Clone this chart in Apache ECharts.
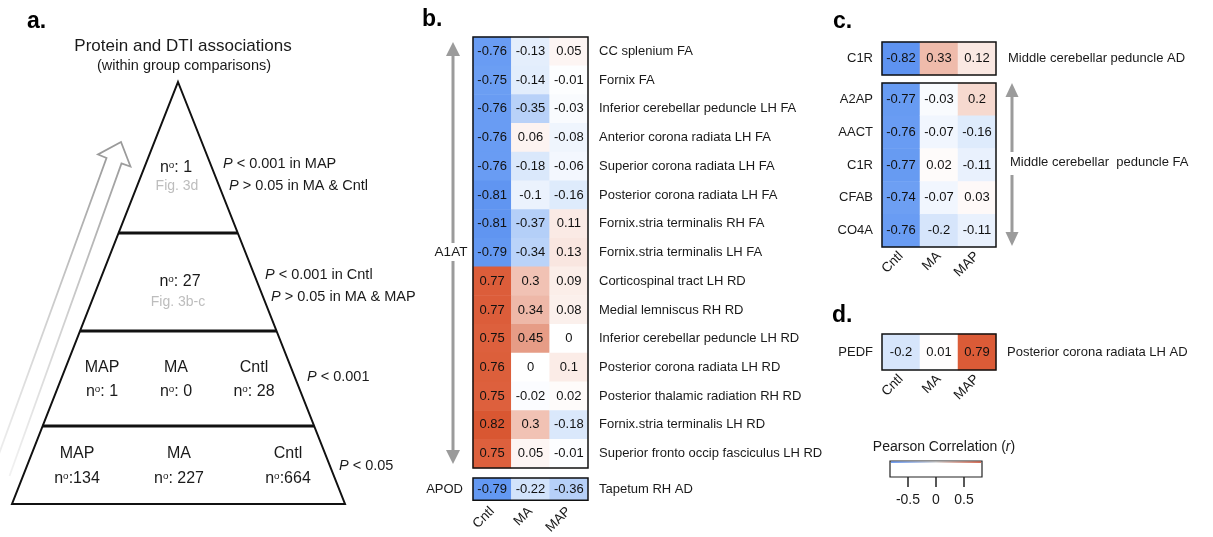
<!DOCTYPE html>
<html><head><meta charset="utf-8">
<script src="https://cdn.jsdelivr.net/npm/echarts@6/dist/echarts.min.js"></script>
<style>html,body{margin:0;padding:0;background:#fff}#c{width:1213px;height:537px}</style>
</head><body><div id="c"></div>
<script>
// ---------------- DATA ----------------
const groups = ['Cntl', 'MA', 'MAP'];

// panel b (A1AT)
const bProtein = 'A1AT';
const bRegions = ['CC splenium FA', 'Fornix FA', 'Inferior cerebellar peduncle LH FA', 'Anterior corona radiata LH FA',
  'Superior corona radiata LH FA', 'Posterior corona radiata LH FA', 'Fornix.stria terminalis RH FA',
  'Fornix.stria terminalis LH FA', 'Corticospinal tract LH RD', 'Medial lemniscus RH RD',
  'Inferior cerebellar peduncle LH RD', 'Posterior corona radiata LH RD', 'Posterior thalamic radiation RH RD',
  'Fornix.stria terminalis LH RD', 'Superior fronto occip fasciculus LH RD'];
const bCntl = [-0.76, -0.75, -0.76, -0.76, -0.76, -0.81, -0.81, -0.79, 0.77, 0.77, 0.75, 0.76, 0.75, 0.82, 0.75];
const bMA   = [-0.13, -0.14, -0.35, 0.06, -0.18, -0.1, -0.37, -0.34, 0.3, 0.34, 0.45, 0, -0.02, 0.3, 0.05];
const bMAP  = [0.05, -0.01, -0.03, -0.08, -0.06, -0.16, 0.11, 0.13, 0.09, 0.08, 0, 0.1, 0.02, -0.18, -0.01];
const apodProtein = ['APOD'];
const apodRegion = ['Tapetum RH AD'];
const apodVals = [-0.79, -0.22, -0.36];

// panel c
const cAdProtein = ['C1R'];
const cAdRegion = ['Middle cerebellar peduncle AD'];
const cAdVals = [-0.82, 0.33, 0.12];
const cFaProteins = ['A2AP', 'AACT', 'C1R', 'CFAB', 'CO4A'];
const cFaRegion = 'Middle cerebellar  peduncle FA';
const cFaCntl = [-0.77, -0.76, -0.77, -0.74, -0.76];
const cFaMA   = [-0.03, -0.07, 0.02, -0.07, -0.2];
const cFaMAP  = [0.2, -0.16, -0.11, 0.03, -0.11];

// panel d
const dProtein = ['PEDF'];
const dRegion = ['Posterior corona radiata LH AD'];
const dVals = [-0.2, 0.01, 0.79];

// legend
const legendTitle = 'Pearson Correlation';
const legendTicks = [-0.5, 0, 0.5];

// panel a (pyramid)
const pyrTitle = 'Protein and DTI associations';
const pyrSubtitle = '(within group comparisons)';
const tier1 = { count: ': 1', fig: 'Fig. 3d', p1: ' < 0.001 in MAP', p2: ' > 0.05 in MA & Cntl' };
const tier2 = { count: ': 27', fig: 'Fig. 3b-c', p1: ' < 0.001 in Cntl', p2: ' > 0.05 in MA & MAP' };
const tier3Groups = ['MAP', 'MA', 'Cntl'];
const tier3Counts = [': 1', ': 0', ': 28'];
const tier3P = ' < 0.001';
const tier4Groups = ['MAP', 'MA', 'Cntl'];
const tier4Counts = [':134', ': 227', ':664'];
const tier4P = ' < 0.05';

// ---------------- BUILD ----------------
const FF = "'Liberation Sans', Arial, Helvetica, sans-serif";
const TXT = '#1a1a1a';
const palette = ['#3C78EB', '#6B9EF3', '#9ABDF6', '#CCDFFA', '#FFFFFF', '#F4CFC3', '#E38F77', '#DD603D', '#CF3F17'];

function matrix(cols) { const out = []; cols.forEach((arr, x) => arr.forEach((v, y) => out.push([x, y, v]))); return out; }
function row(vals) { return vals.map((v, x) => [x, 0, v]); }

const gridStyle = { show: true, borderColor: '#111', borderWidth: 1.5, z: 10, backgroundColor: 'transparent' };
const grids = [
  Object.assign({ left: 473, top: 37, width: 115, height: 431 }, gridStyle),
  Object.assign({ left: 473, top: 478, width: 115, height: 33 }, gridStyle),
  Object.assign({ left: 882, top: 42, width: 114, height: 33 }, gridStyle),
  Object.assign({ left: 882, top: 83, width: 114, height: 164 }, gridStyle),
  Object.assign({ left: 882, top: 334, width: 114, height: 36 }, gridStyle),
  { left: 890, top: 461, width: 92, height: 16, show: true, borderColor: '#222', borderWidth: 1.2, backgroundColor: '#fff', z: 1 }
];

function catX(gi, showLabels, margin) {
  return {
    type: 'category', gridIndex: gi, data: groups,
    axisLine: { show: false }, axisTick: { show: false }, splitLine: { show: false },
    axisLabel: { show: !!showLabels, rotate: 45, margin: margin || 7, fontSize: 13.5, fontFamily: FF, color: TXT }
  };
}
function catY(gi, data, pos, margin) {
  return {
    type: 'category', gridIndex: gi, data: data, position: pos, inverse: true,
    axisLine: { show: false }, axisTick: { show: false }, splitLine: { show: false },
    axisLabel: { margin: margin, fontSize: 13, fontFamily: FF, color: TXT }
  };
}

const xAxes = [catX(0, false), catX(1, true, 9), catX(2, false), catX(3, true), catX(4, true),
  { type: 'value', gridIndex: 5, min: -0.82, max: 0.82,
    axisLine: { show: false }, splitLine: { show: false },
    axisTick: { show: true, customValues: legendTicks, length: 10, lineStyle: { color: '#222', width: 1.5 } },
    axisLabel: { customValues: legendTicks, margin: 16, fontSize: 14, fontFamily: FF, color: TXT } }];
const yAxes = [
  catY(0, bRegions, 'right', 11),
  catY(1, apodProtein, 'left', 10),
  catY(1, apodRegion, 'right', 11),
  catY(2, cAdProtein, 'left', 9),
  catY(2, cAdRegion, 'right', 12),
  catY(3, cFaProteins, 'left', 9),
  catY(4, dProtein, 'left', 9),
  catY(4, dRegion, 'right', 11),
  { type: 'value', gridIndex: 5, show: false, min: 0, max: 1 }
];

function heat(xi, yi, data) {
  return {
    type: 'heatmap', xAxisIndex: xi, yAxisIndex: yi, data: data,
    label: { show: true, formatter: p => String(p.value[2]), fontSize: 13, fontFamily: FF, color: '#111' },
    emphasis: { disabled: true }, itemStyle: { borderWidth: 0 }
  };
}
const series = [
  heat(0, 0, matrix([bCntl, bMA, bMAP])),
  heat(1, 1, row(apodVals)),
  heat(2, 3, row(cAdVals)),
  heat(3, 5, matrix([cFaCntl, cFaMA, cFaMAP])),
  heat(4, 6, row(dVals))
];

// ---- graphics ----
const G = [];
function text(x, y, str, o) {
  o = o || {};
  G.push({ type: 'text', x: x, y: y, silent: true, z: 20, style: Object.assign({
    text: str, fontSize: 14, fontFamily: FF, fill: TXT, align: 'left', verticalAlign: 'middle' }, o) });
}
function richP(x, y, rest, size) {
  text(x, y, '{i|P}{t|' + rest + '}', { fontSize: size, rich: {
    i: { fontStyle: 'italic', fontSize: size, fontFamily: FF, fill: TXT },
    t: { fontSize: size, fontFamily: FF, fill: TXT } } });
}
function nCount(x, y, rest, size) {
  text(x, y, '{n|n}{o|o}{t|' + rest + '}', { align: 'center', fontSize: size, rich: {
    n: { fontSize: size, fontFamily: FF, fill: TXT },
    o: { fontSize: size * 0.62, fontFamily: FF, fill: TXT, verticalAlign: 'top', padding: [0, 0, 0, 0] },
    t: { fontSize: size, fontFamily: FF, fill: TXT } } });
}

// panel letters
text(27, 22, 'a.', { fontSize: 23, fontWeight: 'bold', fill: '#000' });
text(422, 20, 'b.', { fontSize: 23, fontWeight: 'bold', fill: '#000' });
text(833, 22, 'c.', { fontSize: 23, fontWeight: 'bold', fill: '#000' });
text(832, 316, 'd.', { fontSize: 23, fontWeight: 'bold', fill: '#000' });

// panel a
text(183, 46, pyrTitle, { align: 'center', fontSize: 17 });
text(184, 66, pyrSubtitle, { align: 'center', fontSize: 14.5 });

// hollow arrow
G.push({ type: 'polyline', silent: true, z: 5, shape: { points: [[-9, 476], [106.5, 158], [98, 154.5], [121, 142], [130.5, 166.5], [121.5, 163.5], [9.5, 476]] },
  style: { fill: null, lineWidth: 1.8, lineJoin: 'miter', stroke: { type: 'linear', x: 0, y: 1, x2: 0.35, y2: 0,
    colorStops: [{ offset: 0, color: '#f3f3f3' }, { offset: 0.5, color: '#cfcfcf' }, { offset: 1, color: '#9a9a9a' }] } } });

// pyramid
const apex = [178, 82], baseY = 504, baseL = 12, baseR = 345;
function lx(y) { return apex[0] - (apex[0] - baseL) * (y - apex[1]) / (baseY - apex[1]); }
function rx(y) { return apex[0] + (baseR - apex[0]) * (y - apex[1]) / (baseY - apex[1]); }
G.push({ type: 'polygon', silent: true, z: 6, shape: { points: [apex, [baseR, baseY], [baseL, baseY]] },
  style: { fill: '#fff', stroke: '#111', lineWidth: 2, lineJoin: 'miter' } });
[233, 331, 426].forEach(y => G.push({ type: 'line', silent: true, z: 7,
  shape: { x1: lx(y), y1: y, x2: rx(y), y2: y }, style: { stroke: '#111', lineWidth: 3 } }));

nCount(176, 168, tier1.count, 16);
text(177, 186, tier1.fig, { align: 'center', fontSize: 14, fill: '#bdbdbd' });
richP(223, 164, tier1.p1, 14.5);
richP(229, 186, tier1.p2, 14.5);

nCount(180, 282, tier2.count, 16);
text(178, 302, tier2.fig, { align: 'center', fontSize: 14, fill: '#bdbdbd' });
richP(265, 275, tier2.p1, 14.5);
richP(271, 297, tier2.p2, 14.5);

const t3x = [102, 176, 254];
tier3Groups.forEach((g, i) => { text(t3x[i], 368, g, { align: 'center', fontSize: 16 }); nCount(t3x[i], 392, tier3Counts[i], 16); });
richP(307, 377, tier3P, 14.5);
const t4x = [77, 179, 288];
tier4Groups.forEach((g, i) => { text(t4x[i], 454, g, { align: 'center', fontSize: 16 }); nCount(t4x[i], 479, tier4Counts[i], 16); });
richP(339, 466, tier4P, 14.5);

// panel b arrow + label
const ARC = '#9b9b9b';
function vArrow(x, top, gapTop, gapBot, bot, hw, hl) {
  G.push({ type: 'polygon', silent: true, z: 5, shape: { points: [[x, top], [x - hw, top + hl], [x + hw, top + hl]] }, style: { fill: ARC } });
  G.push({ type: 'line', silent: true, z: 5, shape: { x1: x, y1: top + hl, x2: x, y2: gapTop }, style: { stroke: ARC, lineWidth: 3 } });
  G.push({ type: 'line', silent: true, z: 5, shape: { x1: x, y1: gapBot, x2: x, y2: bot - hl }, style: { stroke: ARC, lineWidth: 3 } });
  G.push({ type: 'polygon', silent: true, z: 5, shape: { points: [[x, bot], [x - hw, bot - hl], [x + hw, bot - hl]] }, style: { fill: ARC } });
}
vArrow(453, 42, 243, 261, 464, 7, 14);
text(451, 252, bProtein, { align: 'center', fontSize: 13.5 });

// panel c arrow + label
vArrow(1012, 83, 152, 175, 246, 6.5, 14);
text(1010, 162, cFaRegion, { fontSize: 13 });

// legend
text(944, 447, '{t|' + legendTitle + ' (}{i|r}{t|)}', { align: 'center', fontSize: 14, rich: {
  t: { fontSize: 14, fontFamily: FF, fill: TXT }, i: { fontSize: 14, fontFamily: FF, fill: TXT, fontStyle: 'italic' } } });
G.push({ type: 'rect', silent: true, z: 20, shape: { x: 891, y: 461.5, width: 90, height: 1.2 },
  style: { fill: { type: 'linear', x: 0, y: 0, x2: 1, y2: 0, colorStops: [
    { offset: 0, color: '#3C78EB' }, { offset: 0.5, color: '#d5d5d5' }, { offset: 1, color: '#C8391A' }] } } });

const option = {
  animation: false,
  backgroundColor: '#fff',
  grid: grids,
  xAxis: xAxes,
  yAxis: yAxes,
  visualMap: { type: 'continuous', show: false, min: -1, max: 1, dimension: 2, seriesIndex: [0, 1, 2, 3, 4],
    inRange: { color: palette } },
  series: series,
  graphic: G
};
const chart = echarts.init(document.getElementById('c'), null, { renderer: 'canvas' });
chart.setOption(option);
</script></body></html>
